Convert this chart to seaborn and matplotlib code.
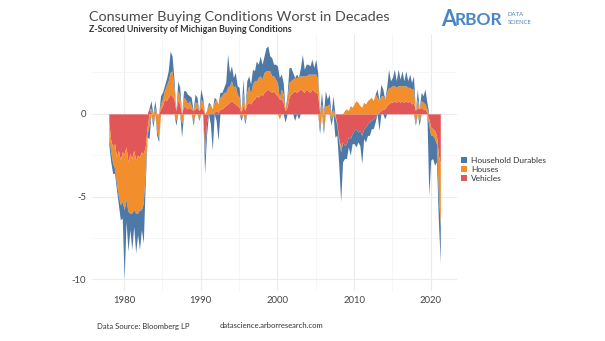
import numpy as np
import pandas as pd
import matplotlib
matplotlib.use("Agg")
import matplotlib.pyplot as plt
from matplotlib.patches import Patch
from matplotlib.ticker import MultipleLocator
import seaborn as sns

# ---------------- data (quarterly z-scores, 1978Q1 .. 2021Q2) ----------------
start_year = 1978.0
vehicles = [
    -0.5, -1.6, -2.0, -1.8,   # 1978
    -2.6, -2.2, -2.8, -2.3,   # 1979
    -2.4, -2.0, -2.9, -2.4,   # 1980
    -2.7, -2.2, -2.8, -2.5,   # 1981
    -2.6, -2.3, -2.4, -2.0,   # 1982
    -0.8, 0.35, 0.1, 0.0,     # 1983
    0.1, 0.0, -0.1, 0.3,      # 1984
    0.5, 0.9, 0.8, 1.0,       # 1985
    1.2, 1.1, 0.9, 0.2,       # 1986
    0.8, 0.6, 0.0, 0.5,       # 1987
    0.4, 0.3, 0.4, 0.3,       # 1988
    0.2, 0.3, 0.4, 0.2,       # 1989
    0.4, 0.3, -2.2, -0.5,     # 1990
    0.0, 0.1, 0.0, 0.1,       # 1991
    0.2, 0.1, 0.3, 0.3,       # 1992
    0.4, 0.5, 0.6, 0.7,       # 1993
    0.8, 0.7, 0.6, 0.5,       # 1994
    0.4, 0.1, 0.5, 0.2,       # 1995
    0.6, 0.7, 0.6, 0.8,       # 1996
    0.9, 1.1, 1.0, 1.2,       # 1997
    1.1, 1.3, 1.4, 1.5,       # 1998
    1.4, 1.3, 1.4, 1.2,       # 1999
    1.1, 0.9, 0.9, 0.7,       # 2000
    0.2, 0.4, 1.0, 1.2,       # 2001
    1.3, 1.4, 1.3, 1.4,       # 2002
    1.5, 1.4, 1.3, 1.5,       # 2003
    1.4, 1.3, 1.5, 1.4,       # 2004
    1.3, 1.2, 0.1, 0.0,       # 2005
    0.0, 0.1, 0.0, 0.1,       # 2006
    0.0, 0.0, 0.0, -0.6,      # 2007
    -1.5, -2.0, -1.7, -1.9,   # 2008
    -1.8, -1.4, -1.5, -1.2,   # 2009
    -1.0, -0.9, -1.1, -1.0,   # 2010
    -1.3, -0.9, -0.8, -0.6,   # 2011
    -0.5, -0.4, -0.3, -0.2,   # 2012
    0.0, 0.1, 0.2, 0.3,       # 2013
    0.3, 0.5, 0.6, 0.7,       # 2014
    0.7, 0.8, 0.7, 0.8,       # 2015
    0.7, 0.8, 0.7, 0.8,       # 2016
    0.7, 0.8, 0.6, 0.7,       # 2017
    0.2, 0.4, 0.3, 0.4,       # 2018
    0.3, 0.3, 0.1, -0.3,      # 2019
    -0.8, -0.9, -1.0, -1.3,   # 2020
    -2.5, -3.0,               # 2021
]
houses = [
    -1.0, -0.7, -1.0, -1.5,
    -1.6, -2.8, -2.7, -3.0,
    -3.4, -3.2, -3.0, -3.6,
    -3.3, -3.6, -3.2, -3.5,
    -3.2, -3.5, -3.0, -1.5,
    -0.4, -0.7, 0.2, -0.5,
    0.3, -1.0, -1.4, 0.3,
    0.4, 0.5, 0.9, 1.0,
    1.3, 1.5, 0.7, -0.4,
    0.6, 0.5, -0.6, 0.5,
    0.5, 0.3, 0.4, 0.2,
    -0.5, 0.4, 0.3, -0.3,
    0.5, 0.4, -0.3, 0.2,
    0.5, 0.5, 0.3, 0.6,
    0.7, 0.5, 0.7, 0.8,
    0.9, 0.8, 1.0, 1.0,
    1.2, 0.9, 1.1, 0.7,
    0.6, -0.2, 0.8, -0.4,
    0.7, 1.0, 0.6, 1.0,
    1.1, 0.9, 1.2, 1.1,
    1.0, 1.2, 1.2, 1.1,
    1.2, 1.0, 0.9, 0.9,
    0.8, -0.3, 0.6, 0.5,
    0.1, 0.4, 0.9, 0.8,
    0.8, 0.8, 0.9, 0.8,
    0.8, 0.9, 1.0, 0.8,
    1.0, 1.1, 0.9, 1.0,
    1.1, 0.9, -0.8, 0.6,
    -0.9, 0.4, 0.5, 0.5,
    -0.3, 0.3, -0.2, -0.1,
    -0.2, -0.3, 0.0, 0.2,
    0.3, 0.2, 0.5, 0.4,
    0.6, 0.8, 0.7, 0.5,
    0.4, 0.7, 0.6, 0.8,
    0.9, 1.0, 0.8, 1.2,
    1.0, 0.7, 0.9, 0.8,
    0.6, 0.8, 1.0, 0.9,
    1.0, 0.9, 0.9, 0.9,
    1.0, 0.9, 1.0, 0.9,
    0.9, 0.8, 0.9, 0.8,
    -0.5, 0.5, -0.4, 0.4,
    0.4, 0.3, 0.2, -0.4,
    -0.5, -0.4, -0.5, -0.5,
    -2.5, -3.8,
]
durables = [
    -0.4, -0.6, -0.6, -0.3,
    -0.4, -0.5, -0.9, -1.0,
    -4.2, -1.3, -2.4, -1.0,
    -2.2, -1.0, -2.4, -1.3,
    -2.4, -1.2, -2.4, -0.7,
    -0.2, -0.8, 0.5, -0.3,
    0.4, -0.3, -0.2, 0.5,
    0.4, 0.3, 0.4, 0.6,
    1.3, 0.9, 0.5, -0.3,
    0.6, 0.5, -0.8, 0.4,
    0.5, 0.6, 0.3, 0.5,
    -0.2, 0.5, 0.3, -0.1,
    0.6, 0.3, -1.1, -0.8,
    0.2, -0.6, -2.2, 0.3,
    -0.4, -1.6, 0.3, 0.2,
    0.3, 0.6, 2.0, 0.8,
    0.9, 0.6, 0.8, 0.5,
    0.6, -0.2, 0.8, -0.2,
    0.7, 0.6, 0.6, 0.9,
    0.6, 1.2, 0.8, 1.2,
    0.9, 1.0, 1.4, 1.5,
    0.9, 1.1, 0.7, 0.9,
    1.0, 1.3, 0.9, 0.7,
    -0.5, 0.3, 0.9, 0.8,
    0.4, -0.4, 0.2, -0.3,
    0.5, 1.3, 0.4, 0.7,
    0.6, 0.5, 0.9, 0.4,
    0.9, 0.4, -0.4, 0.7,
    -0.3, 0.9, 0.4, 0.6,
    -0.4, 0.8, -1.2, -0.6,
    -1.4, -3.0, -1.2, -0.8,
    -0.9, -0.6, -1.0, -0.6,
    -0.8, -1.1, -0.6, -0.9,
    -1.7, -0.6, -0.9, -0.7,
    -0.8, -0.5, -0.6, -0.3,
    0.5, -1.0, 0.7, 0.4,
    -0.3, 0.3, 1.1, 0.4,
    0.5, 1.0, 0.4, 1.0,
    0.4, 0.9, 0.3, 0.9,
    0.4, 0.8, 0.4, 0.8,
    -0.2, 0.6, -0.3, 0.5,
    0.4, 0.9, 0.4, -4.2,
    -1.5, -1.4, -1.6, -1.1,
    -1.5, -2.2,
]
series_names = ["Vehicles", "Houses", "Household Durables"]
series_colors = {"Vehicles": "#e15759", "Houses": "#f28e2b", "Household Durables": "#4e79a7"}
legend_order = ["Household Durables", "Houses", "Vehicles"]
x_ticks = [1980, 1990, 2000, 2010, 2020]
y_ticks = [-10, -5, 0]

n = len(vehicles)
dates = start_year + np.arange(n) * 0.25
df = pd.DataFrame({"date": dates, "Vehicles": vehicles,
                   "Houses": houses, "Household Durables": durables})

# ---------------- figure ----------------
sns.set_theme(style="whitegrid")
plt.rcParams["font.family"] = ["Lato", "DejaVu Sans"]

fig = plt.figure(figsize=(6.05, 3.41), dpi=100)
ax = fig.add_axes([0.152, 0.147, 0.603, 0.752])

pos_base = np.zeros(n)
neg_base = np.zeros(n)
for name in series_names:
    vals = df[name].to_numpy()
    pos = np.clip(vals, 0, None)
    neg = np.clip(vals, None, 0)
    ax.fill_between(df["date"], pos_base, pos_base + pos, color=series_colors[name],
                    linewidth=0, zorder=3)
    ax.fill_between(df["date"], neg_base, neg_base + neg, color=series_colors[name],
                    linewidth=0, zorder=3)
    pos_base = pos_base + pos
    neg_base = neg_base + neg

ax.set_xlim(1975.8, 2023.4)
ax.set_ylim(-10.7, 4.8)
ax.set_xticks(x_ticks)
ax.set_yticks(y_ticks)
ax.set_yticklabels([str(t) for t in y_ticks])
ax.xaxis.set_minor_locator(MultipleLocator(5))
ax.yaxis.set_minor_locator(MultipleLocator(2.5))
ax.set_facecolor("white")
ax.grid(which="major", color="#ececec", linewidth=0.8)
ax.grid(which="minor", color="#f3f3f3", linewidth=0.5)
ax.tick_params(axis="both", which="both", length=0, labelsize=6.8, colors="#444444", pad=4)
ax.set_xlabel("")
ax.set_ylabel("")
sns.despine(ax=ax, left=True, bottom=True)

# legend
handles = [Patch(facecolor=series_colors[k], edgecolor="none", label=k) for k in legend_order]
fig.legend(handles=handles, loc="upper left", bbox_to_anchor=(461 / 605, 1 - 157 / 341),
           frameon=False, fontsize=6.0, handlelength=0.75, handleheight=0.75,
           handletextpad=0.5, labelspacing=0.25, borderaxespad=0, borderpad=0,
           labelcolor="#333333")

# titles
fig.text(89 / 605, 1 - 17 / 341, "Consumer Buying Conditions Worst in Decades",
         fontsize=10.4, color="#4a4a4a", ha="left", va="center")
fig.text(89 / 605, 1 - 30 / 341, "Z-Scored University of Michigan Buying Conditions",
         fontsize=6.4, color="#333333", ha="left", va="center", fontweight="bold")

# logo
fig.text(441 / 605, 1 - 19 / 341, "A", fontsize=15.5, color="#4a86c5", ha="left",
         va="center", fontweight="bold")
fig.text(455 / 605, 1 - 20 / 341, "RBOR", fontsize=12.5, color="#4a86c5", ha="left",
         va="center", fontweight="bold")
fig.text(508 / 605, 1 - 15 / 341, "DATA", fontsize=4.3, color="#4a86c5", ha="left", va="center")
fig.text(508 / 605, 1 - 22 / 341, "SCIENCE", fontsize=4.3, color="#4a86c5", ha="left", va="center")

# footer
fig.text(97 / 605, 1 - 326 / 341, "Data Source: Bloomberg LP", fontsize=5.5,
         color="#333333", ha="left", va="center")
fig.text(220 / 605, 1 - 326 / 341, "datascience.arborresearch.com", fontsize=5.5,
         color="#333333", ha="left", va="center")

fig.savefig("out.png", dpi=100)
